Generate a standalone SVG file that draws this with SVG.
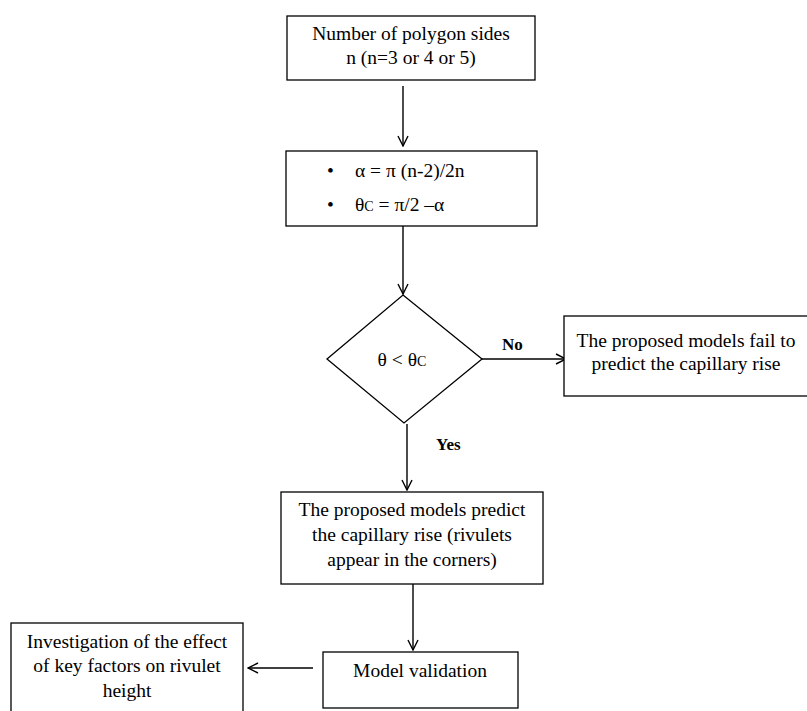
<svg xmlns="http://www.w3.org/2000/svg" width="807" height="711" viewBox="0 0 807 711">
<defs>
<marker id="arr" viewBox="0 0 12 12" refX="11" refY="6" markerWidth="12" markerHeight="12" markerUnits="userSpaceOnUse" orient="auto">
<polyline points="1,1 11,6 1,11" fill="none" stroke="#000" stroke-width="1.4"/>
</marker>
<style>
.box{fill:#fff;stroke:#000;stroke-width:1.3}
.t{font-family:"Liberation Serif","Times New Roman",serif;font-size:19.5px;fill:#000}
.c{text-anchor:middle}
.b{font-weight:bold;font-size:17px}
.sub{font-size:14px}
.con{stroke:#000;stroke-width:1.4;fill:none}
</style>
</defs>
<rect width="807" height="711" fill="#fff"/>
<g id="connectors">
<line class="con" x1="403" y1="86" x2="403" y2="146" marker-end="url(#arr)"/>
<line class="con" x1="403" y1="226" x2="403" y2="294" marker-end="url(#arr)"/>
<line class="con" x1="482" y1="359" x2="566" y2="359" marker-end="url(#arr)"/>
<line class="con" x1="407" y1="424" x2="407" y2="490" marker-end="url(#arr)"/>
<line class="con" x1="413" y1="584" x2="413" y2="650" marker-end="url(#arr)"/>
<line class="con" x1="313" y1="668" x2="248" y2="668" marker-end="url(#arr)"/>
<text class="t b" x="502" y="350">No</text>
<text class="t b" x="436" y="450">Yes</text>
</g>
<g id="n1">
<rect class="box" x="287" y="16" width="248" height="64"/>
<text class="t c" x="411" y="40">Number of polygon sides</text>
<text class="t c" x="411" y="64">n (n=3 or 4 or 5)</text>
</g>
<g id="n2">
<rect class="box" x="286" y="151" width="251" height="75"/>
<text class="t" x="327" y="177">•</text>
<text class="t" x="355" y="177">α = π (n-2)/2n</text>
<text class="t" x="327" y="211">•</text>
<text class="t" x="355" y="211">θ<tspan class="sub">C</tspan> = π/2 –α</text>
</g>
<g id="n3">
<polygon class="box" points="403,295 482,359 404,423 327,359"/>
<text class="t c" x="402" y="366">θ &lt; θ<tspan class="sub">C</tspan></text>
</g>
<g id="n4">
<rect class="box" x="564" y="316" width="246" height="80"/>
<text class="t c" x="686" y="347">The proposed models fail to</text>
<text class="t c" x="686" y="370">predict the capillary rise</text>
</g>
<g id="n5">
<rect class="box" x="281" y="492" width="262" height="92"/>
<text class="t c" x="412" y="516">The proposed models predict</text>
<text class="t c" x="412" y="541">the capillary rise (rivulets</text>
<text class="t c" x="412" y="566">appear in the corners)</text>
</g>
<g id="n6">
<rect class="box" x="323" y="652" width="195" height="56"/>
<text class="t c" x="420" y="677">Model validation</text>
</g>
<g id="n7">
<rect class="box" x="11" y="623" width="232" height="95"/>
<text class="t c" x="127" y="648">Investigation of the effect</text>
<text class="t c" x="127" y="672">of key factors on rivulet</text>
<text class="t c" x="127" y="697">height</text>
</g>
</svg>
